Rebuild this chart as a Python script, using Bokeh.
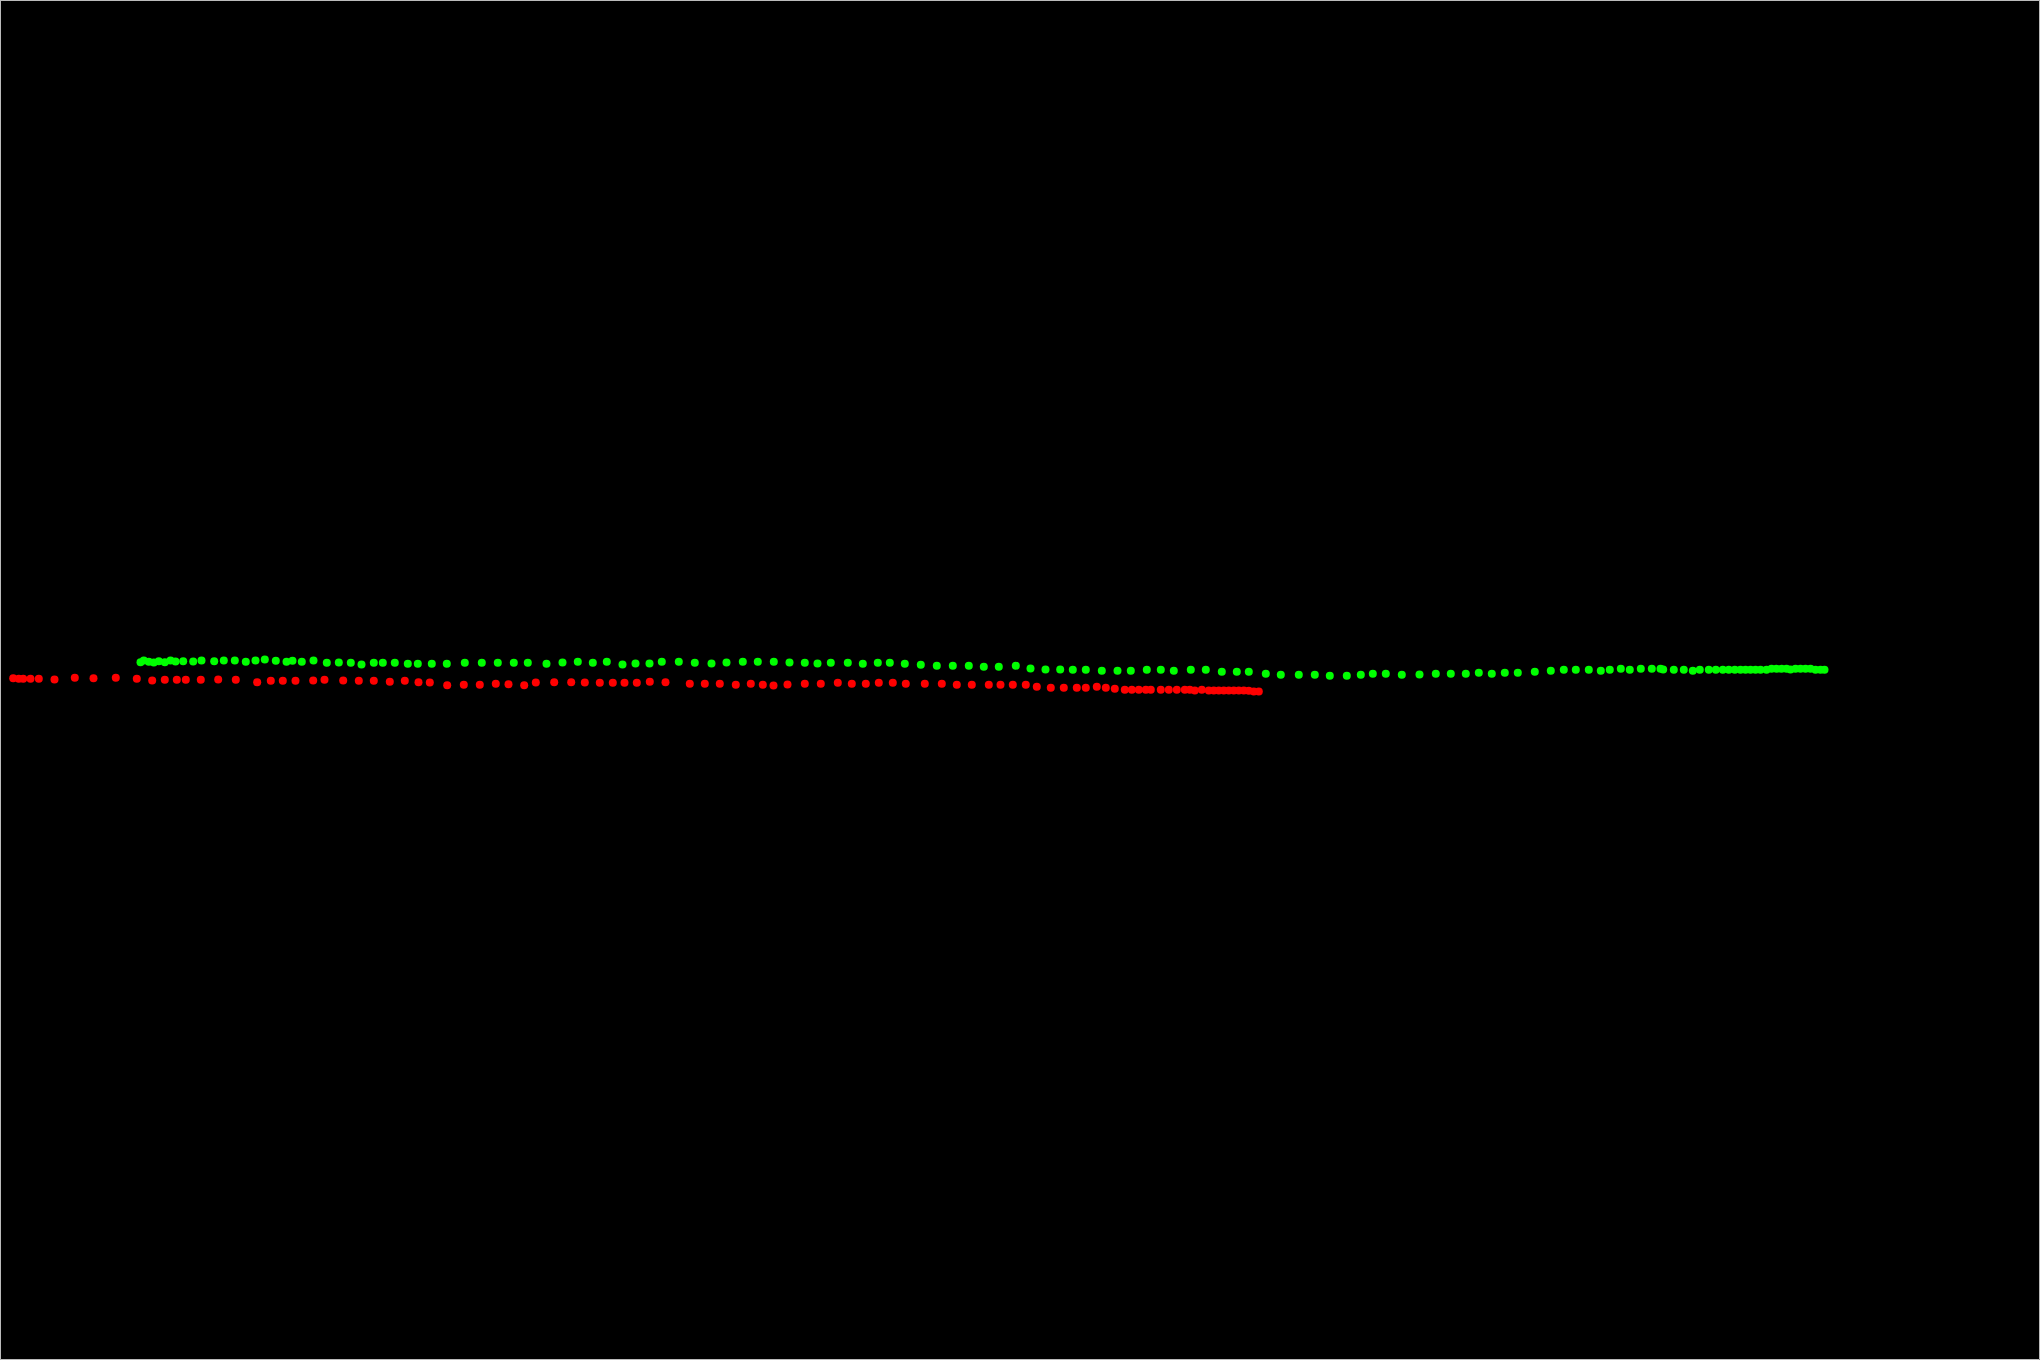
from bokeh.plotting import figure
from bokeh.models import Range1d
from bokeh.embed import file_html
from bokeh.resources import INLINE

# Red track (x, y); y grows downward
red_x = [12.7, 18.3, 22.7, 30, 38.3, 54, 74.3, 93, 115.3, 136.3, 151.7, 164.3, 176.3, 185.3, 200.3, 217.7,
         235.3, 256.7, 270.3, 282.3, 295, 312.7, 324,
         342.7, 358.3, 373.3, 389.3, 404.3, 418, 429.3, 446.7, 463.3, 479.3, 495.3, 508, 523.7, 535.3, 553.7,
         570.7, 584.3, 599.3, 612.3, 624, 636.3, 649.3, 665,
         689.3, 704.3, 719.3, 735.3, 750.3, 762.3, 773, 787, 804.3, 820.3, 837.3, 851.3, 865.3, 878.3, 892.3,
         905.3, 924.3, 941.3, 956.3, 971.3, 988.3,
         1000, 1012.3, 1025.3, 1036.3, 1050.3, 1063.3, 1076.3, 1085.3, 1096.3, 1105.3, 1114.3, 1124.3, 1131.3,
         1138.3, 1145.3, 1150.3, 1160.3, 1168.3, 1176.3, 1184.3, 1189.3, 1194.3, 1201.3, 1208.3, 1213.3, 1218.3,
         1223.3, 1228.3, 1233.3, 1238.3, 1243.3, 1248.3, 1253.3, 1258.3]
red_y = [677.7, 678.3, 678.3, 678.3, 678.3, 679, 677.3, 677.7, 677.3, 678.3, 680, 679.3, 679.3, 679.3, 679.3, 679,
         679.3, 681.7, 680.3, 680.3, 680.3, 680, 679.3,
         680, 680.3, 680.3, 681.3, 680.3, 681.7, 682, 684.7, 684.3, 684.3, 683.3, 683.7, 684.7, 682, 681.7,
         681.7, 682, 682.3, 682.3, 682.3, 682.3, 681.3, 681.7,
         683.3, 683.3, 683.3, 684.3, 683.3, 684.3, 685, 684, 683.3, 683.3, 682.3, 683.3, 683.3, 682.3, 682.3,
         683.3, 683.3, 683.3, 684.3, 684.3, 684.3,
         684.3, 684.3, 684.3, 686.3, 687.3, 687.3, 687.3, 687.3, 686.3, 687.3, 688.3, 689.3, 689.3,
         689.3, 689.3, 689.3, 689.3, 689.3, 689.3, 689.3, 689.3, 690, 689.3, 690, 690, 690,
         690, 690, 690, 690, 690, 690.3, 691, 691]

# Green track (x, y)
green_x = [140, 143.3, 148.3, 153.3, 158.3, 164.3, 170, 175, 182.7, 192.7, 201, 213.7, 223.3, 234.3, 245.3, 255,
           264.3, 275.3, 286, 292, 301.3, 313, 326.3, 338.3,
           350.3, 361, 373.3, 382.3, 394.3, 407.3, 417.3, 431.3, 446.3, 464.3, 481.3, 497.3, 513.3, 527.3, 546,
           562, 577.3, 592.3, 606.3, 622, 635, 649, 661.3,
           678.3, 694.3, 711, 726, 742.3, 757.3, 773.3, 789, 804.3, 817, 830.3, 847.3, 862.3, 877.3, 889.3,
           904.3, 920.3, 936.3, 952.3, 968.3, 983.3, 998.3,
           1015.3, 1030, 1045, 1059.7, 1072.3, 1085.3, 1101.3, 1117, 1130.3, 1146.3, 1160.3, 1173.3, 1190.3,
           1205.3, 1221.3, 1236.3, 1248.3, 1265.3, 1280.3, 1298.3, 1314.3, 1329.3,
           1346.3, 1360.3, 1372.3, 1385.3, 1401.3, 1419, 1435.3, 1450.3, 1465.3, 1478.3, 1491.3, 1504.3, 1517.3,
           1534.3, 1550.3, 1563.3, 1575.3, 1588.3, 1600.3, 1609.3, 1620.3, 1629.3, 1640.3, 1651.3, 1660,
           1662.7, 1673.3, 1683.3, 1692.3, 1699.3, 1708.3, 1715.3, 1722.3, 1728.3, 1734.3, 1740, 1745, 1750,
           1755, 1760, 1766, 1771, 1776, 1781, 1786, 1790, 1795, 1800, 1805, 1810, 1815, 1820, 1824]
green_y = [661.7, 660, 661.3, 662, 660.7, 661.7, 660, 661, 660.7, 661, 660, 660.7, 660, 660, 661.3, 660,
           659, 660.3, 661.3, 660.3, 661.3, 660, 662.3, 662,
           662.3, 664, 662.3, 662.3, 662.3, 663.3, 663.3, 663.3, 663.3, 662.3, 662.3, 662.3, 662.3, 662.3, 663.3,
           662, 661.3, 662.3, 661.3, 664, 663, 663, 661.3,
           661.3, 662.3, 663, 662, 661.3, 661.3, 661.3, 662, 662.3, 663, 662.3, 662.3, 663.3, 662.3, 662.3,
           663.3, 664.3, 665.3, 665.3, 665.3, 666.3, 666.3,
           665.3, 668, 669, 669, 669.3, 669.3, 670.3, 670.3, 670.3, 669.3, 669.3, 670.3, 669.3,
           669.3, 671.3, 671.3, 671.3, 673.3, 674.3, 674.3, 674.3, 675.3,
           675.3, 674.3, 673.3, 673.3, 674.3, 674, 673.3, 673.3, 673.3, 672.3, 673.3, 672.3, 672.3,
           671.3, 670.3, 669.3, 669.3, 669.3, 670.3, 669.3, 668.3, 669.3, 668.3, 668.3, 668.3,
           669, 669.3, 669.3, 670.3, 669.3, 669.3, 669.3, 669.3, 669.3, 669.3, 669.3, 669.3, 669.3,
           669.3, 669.3, 669.3, 668.3, 668.3, 668.3, 668.3, 669, 668.3, 668.3, 668.3, 668.3, 669.3, 669.3, 669.3]

p = figure(width=2040, height=1360, output_backend="svg", toolbar_location=None,
           x_range=Range1d(0, 2040), y_range=Range1d(1360, 0),
           x_axis_type=None, y_axis_type=None, min_border=0)
p.background_fill_color = "black"
p.border_fill_color = "black"
p.outline_line_color = "#bbbbbb"
p.grid.visible = False

p.scatter(red_x, red_y, size=8, fill_color="#ff0000", line_color=None)
p.scatter(green_x, green_y, size=8, fill_color="#00ff00", line_color=None)

open("out.html", "w").write(file_html(p, INLINE))
